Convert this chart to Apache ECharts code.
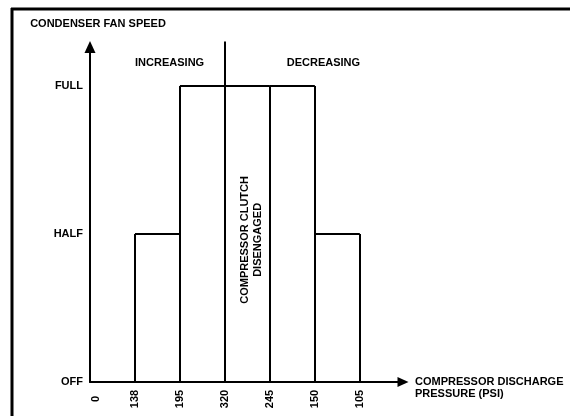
<!DOCTYPE html>
<html>
<head>
<meta charset="utf-8">
<script src="https://cdn.jsdelivr.net/npm/echarts@6/dist/echarts.min.js"></script>
<style>
  html, body { margin: 0; padding: 0; background: #fff; }
  #chart { width: 570px; height: 416px; }
</style>
</head>
<body>
<div id="chart"></div>
<script>
// Pressure points along the horizontal axis (PSI), in the order drawn
const pressureLabels = ['0', '138', '195', '320', '245', '150', '105'];
// Fan speed levels on the vertical axis
const speedLabels = ['OFF', 'HALF', 'FULL'];
// Fan level held between consecutive pressure points (0 = OFF, 1 = HALF, 2 = FULL)
const bandLevel = [0, 1, 2, 2, 2, 1];
// Pressure point where the compressor clutch disengages, and how high its marker line reaches
const clutchIndex = 3;
const clutchTop = 2.3;

const FONT = 'Liberation Sans, Arial, sans-serif';

// Build the step outline: horizontal run per band, vertical edge per pressure point
const segments = [];
bandLevel.forEach((lv, i) => {
  if (lv > 0) segments.push({ coords: [[i, lv], [i + 1, lv]] });
});
pressureLabels.forEach((_, j) => {
  const left = j > 0 ? bandLevel[j - 1] : 0;
  const right = j < bandLevel.length ? bandLevel[j] : 0;
  let h = Math.max(left, right);
  if (j === clutchIndex) h = clutchTop;
  if (h > 0 && j > 0) segments.push({ coords: [[j, 0], [j, h]] });
});

const chart = echarts.init(document.getElementById('chart'));

const baseText = { color: '#000', fontFamily: FONT, fontWeight: 'bold', fontSize: 11 };

chart.setOption({
  animation: false,
  backgroundColor: '#fff',
  grid: { left: 90, top: 47, width: 313, height: 335, containLabel: false },
  xAxis: {
    type: 'value',
    min: 0, max: 6.96, interval: 1,
    // leading blank line keeps the first line level with the axis
    name: '\nCOMPRESSOR DISCHARGE\nPRESSURE (PSI)',
    nameLocation: 'end',
    nameGap: 12,
    nameTextStyle: Object.assign({}, baseText, { align: 'left', verticalAlign: 'middle', lineHeight: 12 }),
    axisLine: { show: true, symbol: ['none', 'triangle'], symbolSize: [10, 11], lineStyle: { color: '#000', width: 2 } },
    axisTick: { show: false },
    splitLine: { show: false },
    axisLabel: Object.assign({}, baseText, {
      rotate: 90, align: 'center', verticalAlign: 'middle', margin: 17,
      showMaxLabel: false,
      formatter: v => {
        if (!Number.isInteger(v) || v >= pressureLabels.length) return '';
        return v === 0 ? '{z|' + pressureLabels[v] + '}' : pressureLabels[v];
      },
      rich: { z: Object.assign({}, baseText, { padding: [12, 0, 0, 0] }) }
    })
  },
  yAxis: {
    type: 'value',
    min: 0, max: 2.263, interval: 1,
    name: 'CONDENSER FAN SPEED',
    nameLocation: 'end',
    nameGap: 18,
    nameTextStyle: Object.assign({}, baseText, { align: 'center', padding: [0, 0, 0, 16] }),
    axisLine: { show: true, symbol: ['none', 'triangle'], symbolSize: [11, 12], lineStyle: { color: '#000', width: 2 } },
    axisTick: { show: false },
    splitLine: { show: false },
    axisLabel: Object.assign({}, baseText, {
      margin: 7,
      showMaxLabel: false,
      formatter: v => (Number.isInteger(v) && v < speedLabels.length) ? speedLabels[v] : ''
    })
  },
  series: [{
    type: 'lines',
    coordinateSystem: 'cartesian2d',
    polyline: false,
    silent: true,
    clip: false,
    lineStyle: { color: '#000', width: 2, opacity: 1 },
    data: segments
  }]
});

// Annotations placed in data coordinates
const p = (x, y) => chart.convertToPixel({ gridIndex: 0 }, [x, y]);
const inc = p(1.77, 2.155);
const dec = p(5.19, 2.155);
const clutch = p(3.6, 0.96);

chart.setOption({
  graphic: [
    // Page frame (left and top edges)
    { type: 'line', shape: { x1: 12, y1: 8, x2: 12, y2: 416 }, style: { stroke: '#000', lineWidth: 3 } },
    { type: 'line', shape: { x1: 11, y1: 9, x2: 570, y2: 9 }, style: { stroke: '#000', lineWidth: 3 } },
    { type: 'text', x: inc[0], y: inc[1], style: { text: 'INCREASING', fill: '#000', align: 'center', verticalAlign: 'middle', font: 'bold 11px ' + FONT } },
    { type: 'text', x: dec[0], y: dec[1], style: { text: 'DECREASING', fill: '#000', align: 'center', verticalAlign: 'middle', font: 'bold 11px ' + FONT } },
    { type: 'text', x: clutch[0], y: clutch[1], rotation: Math.PI / 2,
      style: { text: 'COMPRESSOR CLUTCH\nDISENGAGED', fill: '#000', align: 'center', verticalAlign: 'middle', lineHeight: 13, font: 'bold 11px ' + FONT } }
  ]
});
</script>
</body>
</html>
